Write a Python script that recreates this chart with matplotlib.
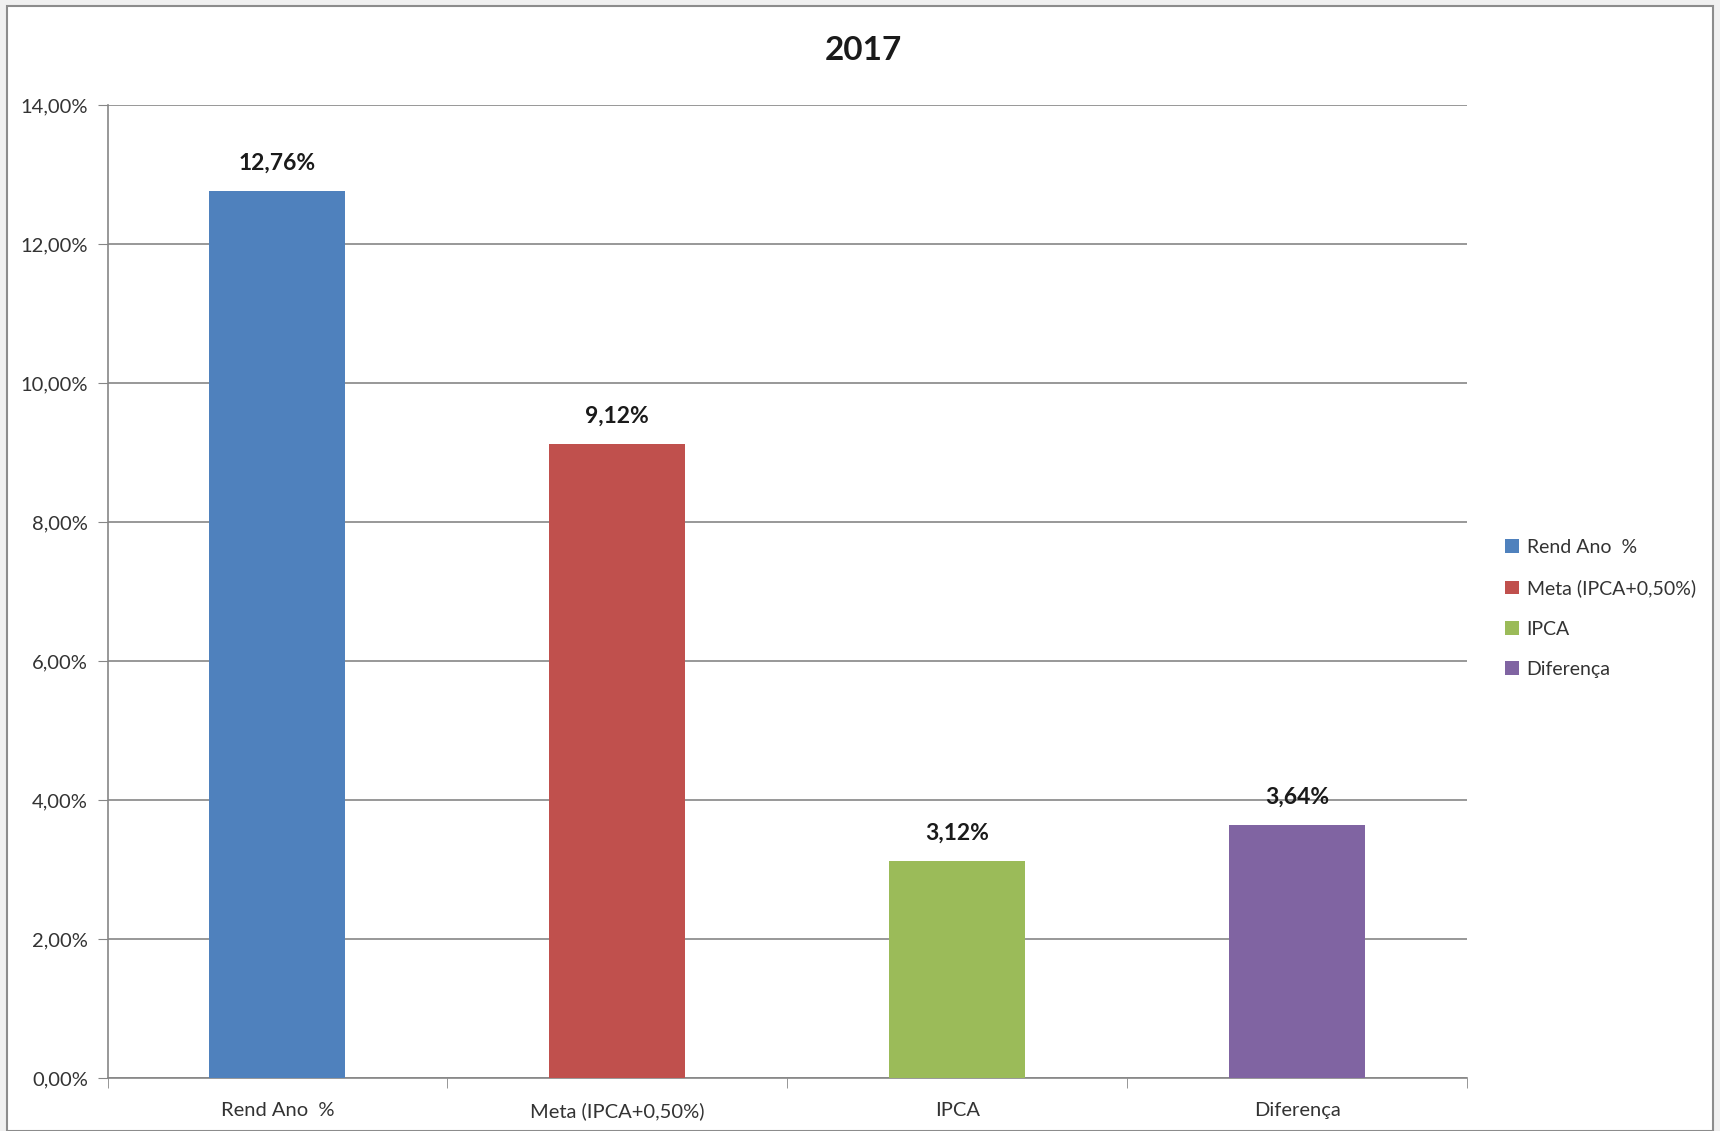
import matplotlib
matplotlib.use("Agg")
import matplotlib.pyplot as plt
from matplotlib.patches import Rectangle, Patch

categories = ["Rend Ano  %", "Meta (IPCA+0,50%)", "IPCA", "Diferença"]
values = [12.76, 9.12, 3.12, 3.64]
colors = ["#4F81BD", "#C0504D", "#9BBB59", "#8064A2"]
yticks = [0, 2, 4, 6, 8, 10, 12, 14]
title = "2017"

plt.rcParams['font.family'] = ['Lato', 'DejaVu Sans']

fig = plt.figure(figsize=(17.2, 11.31), dpi=100)
fig.patch.set_facecolor("#f0f0f0")
# white chart area with grey frame
fig.patches.append(Rectangle((0.004, 0.0), 0.992, 0.995, transform=fig.transFigure,
                             facecolor="white", edgecolor="#8c8c8c", linewidth=1.5, zorder=-5))

ax = fig.add_axes([0.0625, 0.0466, 0.7905, 0.8604])
ax.set_zorder(2)
x = list(range(len(categories)))
bars = ax.bar(x, values, width=0.4, color=colors, zorder=3)

for b, v in zip(bars, values):
    ax.text(b.get_x() + b.get_width() / 2, v + 0.25, ("%.2f%%" % v).replace(".", ","),
            ha="center", va="bottom", fontsize=16.5, fontweight="bold", color="#1a1a1a")

ax.set_xlim(-0.5, len(categories) - 0.5)
ax.set_ylim(0, 14)
ax.set_yticks(yticks)
ax.set_yticklabels([("%.2f%%" % t).replace(".", ",") for t in yticks], fontsize=14.5, color="#333333")
ax.set_xticks(x)
ax.set_xticklabels(categories, fontsize=14.5, color="#333333")
ax.tick_params(axis="x", length=0, pad=17)
ax.set_xticks([i - 0.5 for i in range(len(categories) + 1)], minor=True)
ax.tick_params(axis="x", which="minor", length=7, color="#868686", direction="out")
ax.tick_params(axis="y", length=7, color="#868686", direction="out", pad=7)

ax.yaxis.grid(True, color="#868686", linewidth=1.2, zorder=0)
ax.set_axisbelow(True)
for s in ["top", "right"]:
    ax.spines[s].set_visible(False)
for s in ["left", "bottom"]:
    ax.spines[s].set_color("#868686")
    ax.spines[s].set_linewidth(1.2)
ax.set_facecolor("white")

fig.text(0.502, 0.955, title, ha="center", va="center", fontsize=24, fontweight="bold", color="#1a1a1a")

handles = [Patch(facecolor=c) for c in colors]
fig.legend(handles, categories, loc="center left", bbox_to_anchor=(0.865, 0.462),
           frameon=False, fontsize=14, handlelength=0.7, handleheight=0.7,
           handletextpad=0.4, labelspacing=1.2, labelcolor="#333333")

fig.savefig("out.png", dpi=100, facecolor=fig.get_facecolor())
